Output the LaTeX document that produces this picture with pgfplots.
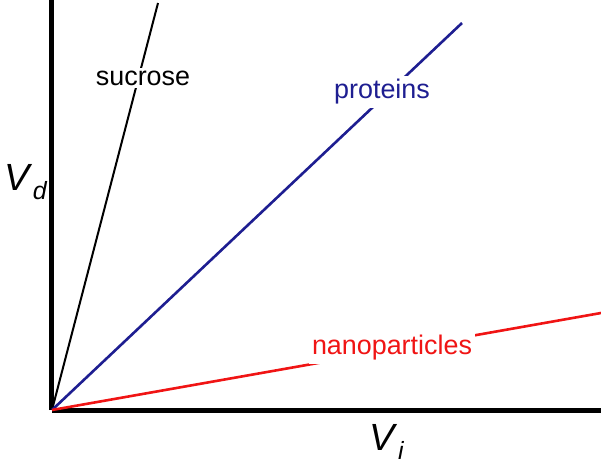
\documentclass[border=0pt]{standalone}
\usepackage{pgfplots}
\pgfplotsset{compat=1.18}
\usepackage{fontspec}
\setmainfont{Liberation Sans}
\definecolor{protblue}{RGB}{30,30,145}
\definecolor{nanored}{RGB}{240,20,20}
\newcommand{\lab}{\fontsize{27}{32}\selectfont}
\begin{document}
\begin{tikzpicture}
\begin{axis}[
  scale only axis, width=549bp, height=410bp,
  xmin=0, xmax=549, ymin=0, ymax=410,
  axis lines*=left,
  axis line style={line width=5bp, black},
  xtick=\empty, ytick=\empty,
  clip=false,
]
\addplot[black, line width=2bp] coordinates {(0,0) (106,407)};
\addplot[protblue, line width=2.6bp] coordinates {(0,0) (410,387)};
\addplot[nanored, line width=2.6bp] coordinates {(0,0) (549,97)};
\node[fill=white, inner sep=3bp, text=black, font=\lab] at (axis cs:91,332) {sucrose};
\node[fill=white, inner sep=3bp, text=protblue, font=\lab] at (axis cs:330,318) {proteins};
\node[fill=white, inner sep=3bp, text=nanored, font=\lab] at (axis cs:340,62) {nanoparticles};
\node[font=\fontsize{38}{44}\selectfont] at (axis cs:-26,228) {\textit{V}\raisebox{-0.25em}{\fontsize{25}{30}\selectfont\textit{d}}};
\node[font=\fontsize{38}{44}\selectfont] at (axis cs:335,-32) {\textit{V}\raisebox{-0.25em}{\fontsize{25}{30}\selectfont\textit{i}}};
\end{axis}
\pgfresetboundingbox
\useasboundingbox (-52bp,-65bp) rectangle (549bp,410bp);
\end{tikzpicture}
\end{document}
